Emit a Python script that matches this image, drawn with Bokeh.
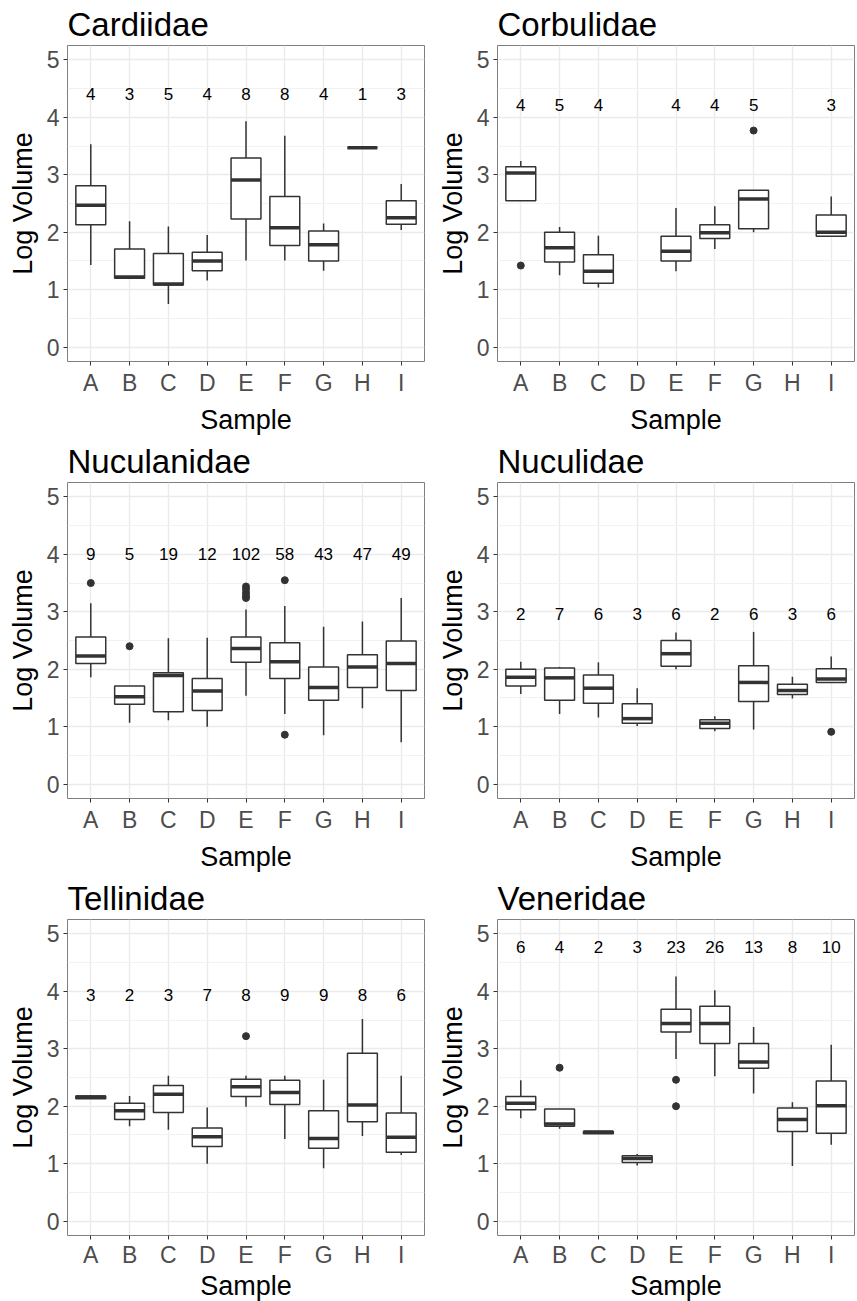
from bokeh.plotting import figure
from bokeh.models import FactorRange, Range1d, FixedTicker, ColumnDataSource
from bokeh.layouts import gridplot
from bokeh.embed import file_html
from bokeh.resources import INLINE
from bokeh.core.properties import value
import math

nan = float("nan")
samples = ["A", "B", "C", "D", "E", "F", "G", "H", "I"]

# ---- Cardiidae ----
card_low = [1.43, 1.19, 0.75, 1.16, 1.51, 1.51, 1.33, 3.47, 2.04]
card_q1 = [2.13, 1.20, 1.08, 1.33, 2.23, 1.77, 1.50, 3.47, 2.14]
card_med = [2.47, 1.22, 1.10, 1.50, 2.91, 2.08, 1.78, 3.47, 2.25]
card_q3 = [2.81, 1.71, 1.63, 1.65, 3.29, 2.62, 2.02, 3.47, 2.55]
card_up = [3.53, 2.19, 2.10, 1.95, 3.93, 3.68, 2.15, 3.47, 2.84]
card_out_x = []
card_out_y = []
card_n = ["4", "3", "5", "4", "8", "8", "4", "1", "3"]
card_n_y = 4.4

# ---- Corbulidae ----
corb_low = [2.55, 1.25, 1.04, nan, 1.32, 1.71, 2.00, nan, 1.92]
corb_q1 = [2.55, 1.48, 1.11, nan, 1.50, 1.89, 2.06, nan, 1.93]
corb_med = [3.03, 1.73, 1.32, nan, 1.67, 1.99, 2.58, nan, 2.00]
corb_q3 = [3.14, 2.00, 1.61, nan, 1.93, 2.13, 2.73, nan, 2.30]
corb_up = [3.24, 2.09, 1.94, nan, 2.42, 2.45, 2.73, nan, 2.62]
corb_out_x = ["A", "G"]
corb_out_y = [1.42, 3.77]
corb_n = ["4", "5", "4", "", "4", "4", "5", "", "3"]
corb_n_y = 4.22

# ---- Nuculanidae ----
nucn_low = [1.86, 1.07, 1.11, 1.00, 1.54, 1.22, 0.85, 1.32, 0.73]
nucn_q1 = [2.10, 1.39, 1.26, 1.28, 2.12, 1.84, 1.46, 1.68, 1.63]
nucn_med = [2.23, 1.52, 1.89, 1.62, 2.36, 2.13, 1.68, 2.04, 2.10]
nucn_q3 = [2.56, 1.71, 1.94, 1.84, 2.56, 2.46, 2.04, 2.25, 2.49]
nucn_up = [3.15, 1.71, 2.54, 2.55, 3.04, 3.10, 2.74, 2.83, 3.24]
nucn_out_x = ["A", "B", "E", "E", "E", "E", "E", "F", "F"]
nucn_out_y = [3.50, 2.40, 3.44, 3.39, 3.33, 3.28, 3.24, 3.55, 0.86]
nucn_n = ["9", "5", "19", "12", "102", "58", "43", "47", "49"]
nucn_n_y = 4.0

# ---- Nuculidae ----
nucl_low = [1.57, 1.22, 1.16, 1.01, 2.00, 0.92, 0.95, 1.49, 1.76]
nucl_q1 = [1.71, 1.46, 1.41, 1.06, 2.05, 0.97, 1.44, 1.56, 1.77]
nucl_med = [1.86, 1.85, 1.67, 1.14, 2.27, 1.06, 1.77, 1.63, 1.83]
nucl_q3 = [2.00, 2.02, 1.90, 1.40, 2.50, 1.12, 2.06, 1.74, 2.01]
nucl_up = [2.13, 2.04, 2.12, 1.67, 2.64, 1.18, 2.65, 1.87, 2.22]
nucl_out_x = ["I"]
nucl_out_y = [0.91]
nucl_n = ["2", "7", "6", "3", "6", "2", "6", "3", "6"]
nucl_n_y = 2.96

# ---- Tellinidae ----
tell_low = [2.13, 1.65, 1.59, 1.00, 1.99, 1.43, 0.92, 1.48, 1.15]
tell_q1 = [2.13, 1.77, 1.89, 1.30, 2.17, 2.03, 1.27, 1.73, 1.20]
tell_med = [2.16, 1.92, 2.21, 1.47, 2.34, 2.24, 1.44, 2.02, 1.46]
tell_q3 = [2.18, 2.05, 2.36, 1.62, 2.47, 2.45, 1.92, 2.92, 1.88]
tell_up = [2.19, 2.18, 2.53, 1.98, 2.53, 2.53, 2.46, 3.52, 2.53]
tell_out_x = ["E"]
tell_out_y = [3.22]
tell_n = ["3", "2", "3", "7", "8", "9", "9", "8", "6"]
tell_n_y = 3.94

# ---- Veneridae ----
vene_low = [1.79, 1.61, 1.52, 0.97, 2.82, 2.52, 2.22, 0.96, 1.33]
vene_q1 = [1.94, 1.65, 1.52, 1.02, 3.29, 3.09, 2.66, 1.56, 1.53]
vene_med = [2.05, 1.69, 1.55, 1.09, 3.44, 3.44, 2.77, 1.77, 2.01]
vene_q3 = [2.17, 1.95, 1.56, 1.14, 3.69, 3.74, 3.09, 1.97, 2.44]
vene_up = [2.45, 1.95, 1.56, 1.17, 4.26, 4.02, 3.38, 2.07, 3.07]
vene_out_x = ["B", "E", "E"]
vene_out_y = [2.67, 2.46, 2.00]
vene_n = ["6", "4", "2", "3", "23", "26", "13", "8", "10"]
vene_n_y = 4.78

y_ticks = [0, 1, 2, 3, 4, 5]
y_minor = [0.5, 1.5, 2.5, 3.5, 4.5]

FONT = "Liberation Sans"
DARK = "#333333"
BOX_W = 0.77


def panel(title, low, q1, med, q3, up, ox, oy, counts, cy, right_border, last_row=False):
    p = figure(
        x_range=FactorRange(*samples, range_padding=0.1, range_padding_units="absolute"),
        y_range=Range1d(-0.25, 5.25),
        frame_width=357, frame_height=316,
        min_border_left=67, min_border_right=right_border,
        min_border_top=0, min_border_bottom=0,
        output_backend="svg", toolbar_location=None,
        background_fill_color="white", border_fill_color="white",
        title=title,
    )
    p.title.text_font = FONT
    p.title.text_font_size = "33px"
    p.title.text_font_style = "normal"
    p.title.text_color = "black"
    p.title.align = "left"
    p.title.standoff = 6

    p.outline_line_color = "#7f7f7f"
    p.outline_line_width = 1

    idx = [i for i in range(len(samples)) if not math.isnan(med[i])]
    cats = [samples[i] for i in idx]
    src = ColumnDataSource(dict(
        x=cats,
        xl=[(c, -BOX_W / 2) for c in cats],
        xr=[(c, BOX_W / 2) for c in cats],
        low=[low[i] for i in idx], q1=[q1[i] for i in idx], med=[med[i] for i in idx],
        q3=[q3[i] for i in idx], up=[up[i] for i in idx],
    ))
    p.segment(x0="x", y0="q3", x1="x", y1="up", source=src, line_color=DARK, line_width=1.5)
    p.segment(x0="x", y0="low", x1="x", y1="q1", source=src, line_color=DARK, line_width=1.5)
    p.vbar(x="x", top="q3", bottom="q1", width=BOX_W, source=src,
           fill_color="white", line_color=DARK, line_width=1.5)
    p.segment(x0="xl", y0="med", x1="xr", y1="med", source=src,
              line_color=DARK, line_width=3.5)

    if ox:
        p.scatter(x=ox, y=oy, size=7, color=DARK, line_color=DARK)

    cidx = [i for i in range(len(samples)) if counts[i] != ""]
    p.text(x=[samples[i] for i in cidx], y=[cy] * len(cidx), text=[counts[i] for i in cidx],
           text_align="center", text_baseline="middle",
           text_font=value(FONT), text_font_size="17px", text_color="black")

    # grids
    p.xgrid.grid_line_color = "#EBEBEB"
    p.xgrid.grid_line_width = 1.4
    p.ygrid.ticker = FixedTicker(ticks=y_ticks, minor_ticks=y_minor)
    p.ygrid.grid_line_color = "#EBEBEB"
    p.ygrid.grid_line_width = 1.4
    p.ygrid.minor_grid_line_color = "#F2F2F2"
    p.ygrid.minor_grid_line_width = 1.0
    p.xgrid.level = "underlay"
    p.ygrid.level = "underlay"

    p.yaxis.ticker = FixedTicker(ticks=y_ticks, minor_ticks=y_minor)
    for ax in (p.xaxis[0], p.yaxis[0]):
        ax.axis_line_color = None
        ax.major_tick_line_color = DARK
        ax.major_tick_out = 4
        ax.major_tick_in = 0
        ax.minor_tick_line_color = None
        ax.major_label_text_font = FONT
        ax.major_label_text_font_size = "23px"
        ax.major_label_text_color = "#4D4D4D"
        ax.major_label_standoff = 4
        ax.axis_label_text_font = FONT
        ax.axis_label_text_font_size = "27px"
        ax.axis_label_text_font_style = "normal"
        ax.axis_label_text_color = "black"
        ax.axis_label_standoff = 6
    if last_row:
        p.xaxis.major_label_standoff = 2
        p.xaxis.axis_label_standoff = 0
    p.xaxis.axis_label = "Sample"
    p.yaxis.axis_label = "Log Volume"
    return p


p1 = panel("Cardiidae", card_low, card_q1, card_med, card_q3, card_up, card_out_x, card_out_y, card_n, card_n_y, 6)
p2 = panel("Corbulidae", corb_low, corb_q1, corb_med, corb_q3, corb_up, corb_out_x, corb_out_y, corb_n, corb_n_y, 2)
p3 = panel("Nuculanidae", nucn_low, nucn_q1, nucn_med, nucn_q3, nucn_up, nucn_out_x, nucn_out_y, nucn_n, nucn_n_y, 6)
p4 = panel("Nuculidae", nucl_low, nucl_q1, nucl_med, nucl_q3, nucl_up, nucl_out_x, nucl_out_y, nucl_n, nucl_n_y, 2)
p5 = panel("Tellinidae", tell_low, tell_q1, tell_med, tell_q3, tell_up, tell_out_x, tell_out_y, tell_n, tell_n_y, 6, True)
p6 = panel("Veneridae", vene_low, vene_q1, vene_med, vene_q3, vene_up, vene_out_x, vene_out_y, vene_n, vene_n_y, 2, True)

grid = gridplot([[p1, p2], [p3, p4], [p5, p6]], toolbar_location=None)

open("out.html", "w").write(file_html(grid, INLINE))
